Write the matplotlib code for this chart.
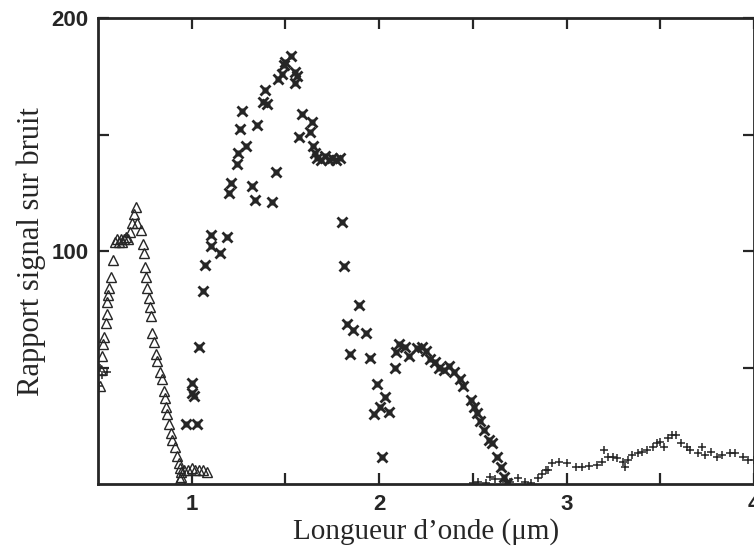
import numpy as np
import matplotlib
matplotlib.use('Agg')
from matplotlib import pyplot as plt
from matplotlib.ticker import FixedLocator, NullFormatter

# triangles (visible band)
tri_x = [0.51, 0.515, 0.52, 0.525, 0.53, 0.54, 0.55, 0.55, 0.555, 0.56, 0.57, 0.58,
         0.59, 0.60, 0.61, 0.62, 0.63, 0.64, 0.65, 0.66, 0.67, 0.68, 0.69, 0.70,
         0.71, 0.73, 0.74, 0.745, 0.75, 0.755, 0.76, 0.77, 0.775, 0.785, 0.79, 0.80,
         0.81, 0.815, 0.83, 0.84, 0.85, 0.86, 0.865, 0.87, 0.88, 0.89, 0.895, 0.91,
         0.92, 0.93, 0.94, 0.945, 0.94, 0.945, 0.96, 0.98, 1.0, 1.02, 1.04, 1.06, 1.08]
tri_y = [42, 49, 55, 60, 63, 69, 73, 78, 81, 84, 89, 96,
         104, 105, 104, 105, 104, 105, 106, 105, 108, 112, 116, 119,
         112, 109, 103, 99, 93, 89, 84, 80, 76, 72, 65, 61,
         56, 53, 48, 45, 40, 37, 33, 30, 26, 22, 19, 16,
         12, 9, 7, 5, 2, 3, 6, 6, 7, 6, 6, 6, 5]

# asterisks
star_x = [0.97, 1.0, 1.0, 1.01, 1.03, 1.04, 1.06, 1.07, 1.105, 1.105, 1.15, 1.19,
          1.20, 1.21, 1.24, 1.245, 1.255, 1.27, 1.29, 1.32, 1.335, 1.35, 1.38,
          1.39, 1.40, 1.43, 1.45, 1.46, 1.48, 1.49, 1.50, 1.53, 1.55, 1.55, 1.56,
          1.575, 1.59, 1.63, 1.64, 1.645, 1.66, 1.67, 1.69, 1.71, 1.73, 1.75, 1.77,
          1.79, 1.80, 1.81, 1.83, 1.845, 1.86, 1.89, 1.93, 1.95, 1.97, 1.99, 2.005,
          2.015, 2.03, 2.05, 2.085, 2.09, 2.105, 2.14, 2.16, 2.20, 2.23, 2.25,
          2.27, 2.30, 2.32, 2.345, 2.37, 2.40, 2.43, 2.45, 2.49, 2.505, 2.52,
          2.54, 2.56, 2.585, 2.60, 2.63, 2.65, 2.665, 2.68]
star_y = [26, 43.5, 39, 38, 26, 59, 83, 94, 107, 102, 99, 106,
          125, 129, 137.5, 142, 152.5, 160, 145, 128, 122, 154, 164,
          169, 163, 121, 134, 174, 176, 180, 181, 183.5, 177, 172, 175,
          149, 159, 151, 155.5, 145, 142, 140, 139, 141, 139, 140, 139,
          140, 112.5, 93.5, 68.5, 56, 66, 77, 65, 54, 30, 43, 33,
          11.5, 37.5, 31, 50, 56.5, 60, 59, 55, 58.5, 59, 57,
          53.5, 52.5, 50, 49, 50.5, 48, 45, 42, 36, 33, 30.5,
          27, 23, 19, 17.5, 11.5, 7.5, 3, 0.5]

# crosses
plus_x = [0.505, 0.51, 0.52, 0.55, 2.50, 2.53, 2.57, 2.59, 2.62, 2.66, 2.70,
          2.74, 2.78, 2.81, 2.85, 2.87, 2.89, 2.90, 2.92, 2.96, 3.00, 3.05,
          3.08, 3.12, 3.16, 3.19, 3.20, 3.22, 3.25, 3.27, 3.30, 3.31, 3.33,
          3.35, 3.38, 3.40, 3.43, 3.46, 3.48, 3.50, 3.52, 3.54, 3.56, 3.585,
          3.61, 3.64, 3.66, 3.70, 3.72, 3.74, 3.77, 3.80, 3.83, 3.87, 3.90,
          3.94, 3.97, 4.0]
plus_y = [42, 50, 47, 48, 0.5, 1, 0.5, 3, 2, 2, 1,
          2.5, 1, 0.5, 2.5, 4.5, 6, 6, 9, 9.5, 9, 7.5,
          7.3, 7.8, 8, 9.5, 14.5, 11.5, 11.5, 11, 9.5, 7.3, 10.3,
          12.5, 13.4, 13.8, 14.6, 16, 17.7, 18, 16, 19.8, 21, 21,
          17.7, 16, 14.6, 13.4, 16, 12.5, 13.8, 11.6, 12.5, 13.4, 13.4,
          11.6, 10.3, 10.5]

col = '#262626'
fig = plt.figure(figsize=(7.54, 5.47), dpi=100)
ax = fig.add_axes([0.130, 0.115, 0.870, 0.852])

ax.plot(tri_x, tri_y, linestyle='none', marker='^', ms=6.5, mfc='none',
        mec=col, mew=1.0)
ax.plot(star_x, star_y, linestyle='none', marker='x', ms=6.5, mec=col, mew=2.0)
ax.plot(star_x, star_y, linestyle='none', marker='+', ms=4, mec=col, mew=2.0)
ax.plot(plus_x, plus_y, linestyle='none', marker='+', ms=6, mec=col, mew=1.1)

ax.set_xlim(0.5, 4.0)
ax.set_ylim(0, 200)
ax.xaxis.set_major_locator(FixedLocator([1, 2, 3, 4]))
ax.xaxis.set_minor_locator(FixedLocator([1.5, 2.5, 3.5]))
ax.yaxis.set_major_locator(FixedLocator([100, 200]))
ax.yaxis.set_minor_locator(FixedLocator([50, 150]))
ax.xaxis.set_minor_formatter(NullFormatter())
ax.yaxis.set_minor_formatter(NullFormatter())

for which in ['major', 'minor']:
    ax.tick_params(axis='both', which=which, direction='in', length=8, width=1.6,
                   color=col, top=True, right=True)
ax.tick_params(axis='both', which='major', labelsize=16, labelcolor=col, pad=7)
for lab in ax.get_xticklabels() + ax.get_yticklabels():
    lab.set_fontweight('bold')
    lab.set_family('Liberation Sans')
for sp in ax.spines.values():
    sp.set_linewidth(2.0)
    sp.set_color(col)

ax.set_xlabel('Longueur d\u2019onde (\u03bcm)', family='Liberation Serif',
              fontsize=21, color=col, labelpad=2)
ax.set_ylabel('Rapport signal sur bruit', family='Liberation Serif',
              fontsize=22, color=col, labelpad=4)

fig.savefig('out.png', dpi=100)
